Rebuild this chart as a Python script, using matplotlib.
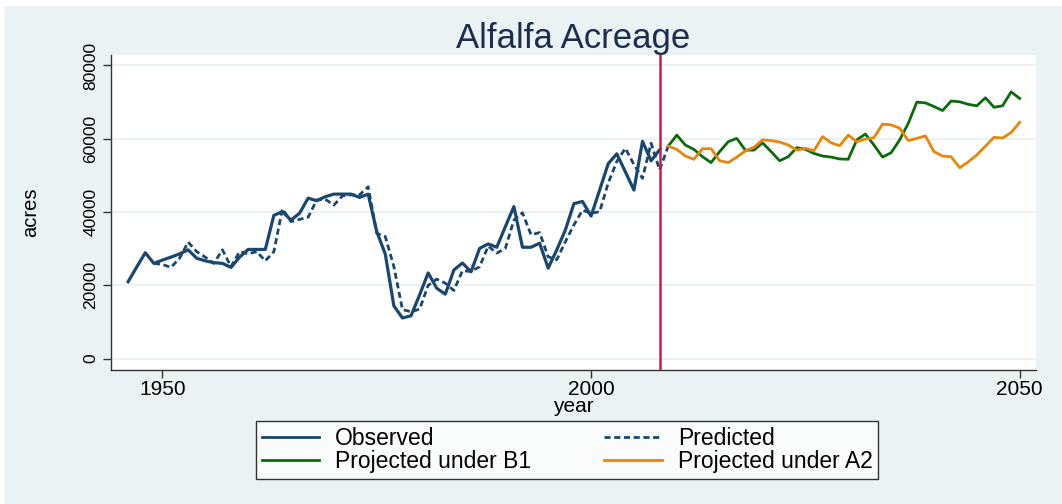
import numpy as np
import matplotlib
matplotlib.use("Agg")
import matplotlib.pyplot as plt
from matplotlib.lines import Line2D
from matplotlib.patches import Rectangle

plt.rcParams['font.family'] = ['Liberation Sans', 'DejaVu Sans']

# observed acreage, 1946-2008
obs_years = list(range(1946, 2009))
observed = [21000, 25000, 28900, 26000, 26900, 27700, 28600, 29700, 27400, 26700,
            26200, 26000, 24900, 27700, 29800, 29800, 29800, 39100, 40100, 37800,
            39700, 43800, 43100, 44200, 44900, 44900, 44900, 44000, 44900, 34700,
            28500, 14400, 11100, 11700, 17400, 23400, 19200, 17600, 24200, 26100,
            23700, 30100, 31300, 30400, 36000, 41500, 30400, 30400, 31500, 24700,
            29700, 35100, 42300, 42900, 38900, 46000, 53200, 55900, 51000, 46000,
            59300, 54000, 57000]

# model predictions, 1949-2009
pred_years = list(range(1949, 2010))
predicted = [26000, 25700, 24900, 27400, 31800, 29200, 27700, 26000, 29700, 25100,
             29200, 28600, 29200, 26700, 29200, 40900, 37400, 38000, 38600, 43300,
             43500, 41900, 44400, 44700, 44700, 46900, 34200, 33300, 25100, 13400,
             12800, 13500, 20000, 21700, 20600, 18600, 24000, 23800, 25100, 30700,
             28800, 30100, 37800, 39800, 33800, 34400, 27800, 27000, 31900, 36500,
             40500, 39700, 40100, 47900, 53800, 57400, 53000, 49200, 58800, 51500,
             58000]

# projections, 2009-2050
proj_years = list(range(2009, 2051))
proj_b1 = [58000, 61000, 58300, 57100, 55100, 53500, 56500, 59200, 60100, 56900,
           56900, 58900, 56500, 54000, 55100, 57600, 57100, 56000, 55300, 55000,
           54500, 54400, 59700, 61300, 58300, 55000, 56200, 59700, 64200, 70000,
           69800, 68800, 67700, 70300, 70100, 69400, 69000, 71200, 68600, 69000,
           72800, 71000]
proj_a2 = [58000, 57100, 55300, 54400, 57300, 57300, 54000, 53500, 55000, 56700,
           57700, 59700, 59500, 59100, 58300, 56900, 57400, 56700, 60600, 58900,
           58100, 61000, 59200, 59900, 60300, 64000, 63800, 62900, 59500, 60100,
           60800, 56500, 55300, 55100, 52100, 53700, 55600, 58000, 60400, 60200,
           61700, 64500]

cutoff_year = 2008
x_ticks = [1950, 2000, 2050]
y_ticks = [0, 20000, 40000, 60000, 80000]

navy = '#1a476f'
green = '#0b6b0b'
orange = '#e8860c'
bg = '#eaf2f3'
dash = (0, (2.2, 1.3))

fig = plt.figure(figsize=(10.62, 5.04), dpi=100, facecolor=bg)
# thin white margin at the top and left, as in the exported graph
fig.patches.append(Rectangle((0, 1 - 5 / 504), 1, 5 / 504, transform=fig.transFigure,
                             color='white', zorder=0))
fig.patches.append(Rectangle((0, 0), 3 / 1062, 1, transform=fig.transFigure,
                             color='white', zorder=0))

ax = fig.add_axes([0.1045, 0.266, 0.871, 0.6255])
ax.set_facecolor('white')

for y in y_ticks:
    ax.axhline(y, color=bg, lw=1.5, zorder=0)

ax.plot(obs_years, observed, color=navy, lw=2.3, zorder=3)
ax.plot(pred_years, predicted, color=navy, lw=2.0, ls=dash, zorder=3)
ax.plot(proj_years, proj_b1, color=green, lw=2.0, zorder=3)
ax.plot(proj_years, proj_a2, color=orange, lw=2.0, zorder=3)
ax.axvline(cutoff_year, color='#cc1a4a', lw=1.8, zorder=4)

ax.set_xlim(1944.0, 2051.9)
ax.set_ylim(-3080, 82950)
ax.set_xticks(x_ticks)
ax.set_yticks(y_ticks)
ax.set_yticklabels([str(v) for v in y_ticks], rotation=90, va='center')
ax.tick_params(axis='x', labelsize=15, length=6, width=1, color='#333333', pad=1)
ax.tick_params(axis='y', labelsize=12.5, length=6, width=1, color='#333333', pad=3)

for side in ['top', 'right']:
    ax.spines[side].set_visible(False)
for side in ['left', 'bottom']:
    ax.spines[side].set_color('#333333')
    ax.spines[side].set_linewidth(1)

ax.set_xlabel('year', fontsize=15, labelpad=-1)
ax.set_ylabel('acres', fontsize=14.5, labelpad=31)
ax.set_title('Alfalfa Acreage', fontsize=25, color='#1e2c50', pad=3)

# column-wise fill: Observed / B1 in column 1, Predicted / A2 in column 2
handles = [Line2D([], [], color=navy, lw=2.0),
           Line2D([], [], color=green, lw=2.0),
           Line2D([], [], color=navy, lw=2.0, ls=dash),
           Line2D([], [], color=orange, lw=2.0)]
labels = ['Observed', 'Projected under B1', 'Predicted', 'Projected under A2']
leg = fig.legend(handles, labels, ncol=2, loc='center',
                 bbox_to_anchor=(567 / 1062, 1 - 450 / 504),
                 fontsize=16.5, frameon=True, fancybox=False, edgecolor='black',
                 handlelength=2.5, handletextpad=0.7, columnspacing=3.2,
                 borderpad=0.25, labelspacing=0.0, borderaxespad=0)
leg.get_frame().set_linewidth(1.0)

fig.savefig('out.png', dpi=100, facecolor=fig.get_facecolor())
